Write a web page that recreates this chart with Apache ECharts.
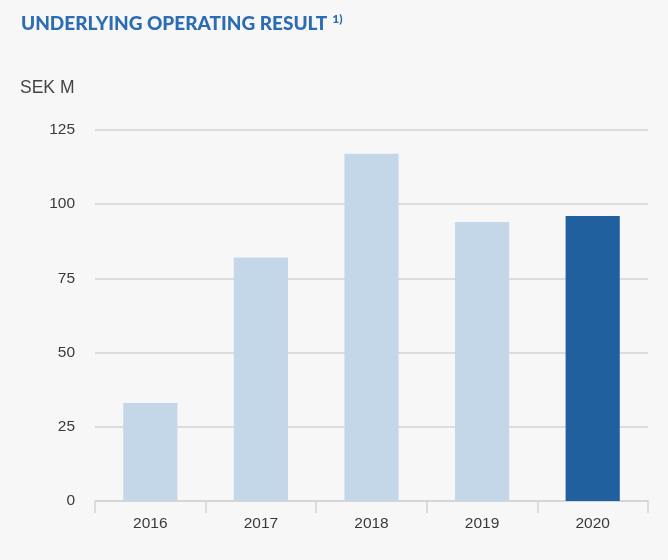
<!DOCTYPE html>
<html>
<head>
<meta charset="utf-8">
<script src="https://cdn.jsdelivr.net/npm/echarts@6/dist/echarts.min.js"></script>
<style>
  html, body { margin: 0; padding: 0; background: #f7f7f7; }
  #chart { width: 668px; height: 560px; }
</style>
</head>
<body>
<div id="chart"></div>
<script>
const years = ['2016', '2017', '2018', '2019', '2020'];
const resultValues = [33, 82, 117, 94, 96];
const yTicks = [0, 25, 50, 75, 100, 125];

const lightBlue = '#c4d7e8';
const darkBlue = '#21609f';

const chart = echarts.init(document.getElementById('chart'));

chart.setOption({
  backgroundColor: '#f7f7f7',
  animation: false,
  title: {
    text: '{t|UNDERLYING OPERATING RESULT} {s|1)}',
    left: 16,
    top: 8,
    textStyle: {
      rich: {
        t: { fontFamily: 'Lato', fontWeight: 900, fontSize: 19, color: '#2b6cb3' },
        s: { fontFamily: 'Lato', fontWeight: 900, fontSize: 12, color: '#2b6cb3', verticalAlign: 'top', padding: [0, 0, 10, 0] }
      }
    }
  },
  graphic: [
    {
      type: 'text',
      left: 20,
      top: 79,
      style: { text: 'SEK M', font: '17.5px "Liberation Sans"', fill: '#444' }
    }
  ],
  grid: { left: 95, right: 20, top: 130, bottom: 59 },
  xAxis: {
    type: 'category',
    data: years,
    axisLine: { lineStyle: { color: '#d3d3d3', width: 1.5 } },
    axisTick: { show: true, length: 12, lineStyle: { color: '#d3d3d3', width: 1.5 } },
    axisLabel: { fontFamily: 'Liberation Sans', fontSize: 15.5, color: '#3a3a3a', margin: 15 }
  },
  yAxis: {
    type: 'value',
    min: yTicks[0],
    max: yTicks[yTicks.length - 1],
    interval: 25,
    axisLine: { show: false },
    axisTick: { show: false },
    splitLine: { lineStyle: { color: '#d3d3d3', width: 1.5 } },
    axisLabel: { fontFamily: 'Liberation Sans', fontSize: 15.5, color: '#3a3a3a', margin: 20 }
  },
  series: [
    {
      type: 'bar',
      barWidth: '49%',
      data: resultValues.map((v, i) => ({
        value: v,
        itemStyle: { color: i === resultValues.length - 1 ? darkBlue : lightBlue }
      }))
    }
  ]
});
</script>
</body>
</html>
